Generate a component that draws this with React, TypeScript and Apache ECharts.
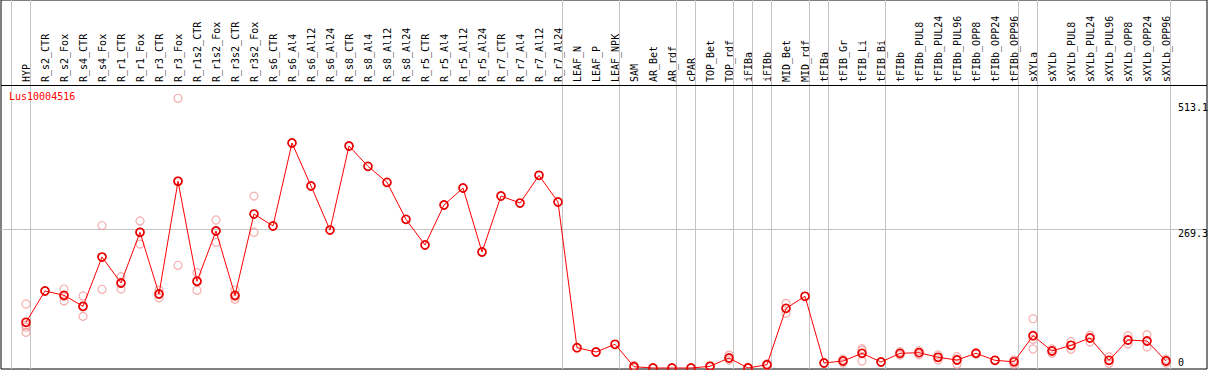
import React, { useEffect, useRef } from 'react';
import * as echarts from 'echarts';

const geneName = 'Lus10004516';

const categories = [
  'HYP', 'R_s2_CTR', 'R_s2_Fox', 'R_s4_CTR', 'R_s4_Fox', 'R_r1_CTR', 'R_r1_Fox', 'R_r3_CTR', 'R_r3_Fox',
  'R_r1s2_CTR', 'R_r1s2_Fox', 'R_r3s2_CTR', 'R_r3s2_Fox', 'R_s6_CTR', 'R_s6_Al4', 'R_s6_Al12', 'R_s6_Al24',
  'R_s8_CTR', 'R_s8_Al4', 'R_s8_Al12', 'R_s8_Al24', 'R_r5_CTR', 'R_r5_Al4', 'R_r5_Al12', 'R_r5_Al24',
  'R_r7_CTR', 'R_r7_Al4', 'R_r7_Al12', 'R_r7_Al24', 'LEAF_N', 'LEAF_P', 'LEAF_NPK', 'SAM', 'AR_Bet', 'AR_rdf',
  'cPAR', 'TOP_Bet', 'TOP_rdf', 'iFIBa', 'iFIBb', 'MID_Bet', 'MID_rdf', 'tFIBa', 'tFIB_Gr', 'tFIB_Li', 'tFIB_Bi',
  'tFIBb', 'tFIBb_PUL8', 'tFIBb_PUL24', 'tFIBb_PUL96', 'tFIBb_OPP8', 'tFIBb_OPP24', 'tFIBb_OPP96',
  'sXYLa', 'sXYLb', 'sXYLb_PUL8', 'sXYLb_PUL24', 'sXYLb_PUL96', 'sXYLb_OPP8', 'sXYLb_OPP24', 'sXYLb_OPP96',
];

const means = [
  88.5, 149.2, 140.8, 119.5, 215, 164.7, 262.9, 143.4, 361.7,
  168, 265.4, 140.8, 298.3, 275.1, 435.9, 352.6, 267.3,
  430.1, 390.7, 359.7, 288, 238.3, 315.8, 348.7, 224.7,
  333.2, 319.6, 373.3, 321.6, 39.3, 31, 45.9, 2.5, 0, 0,
  0, 3.3, 19.4, 0, 6.4, 115.6, 138.9, 9.7, 13.6, 28.4, 11.6,
  28.4, 29.7, 20.7, 15.5, 28.4, 14.9, 12,
  62.6, 32.9, 44, 58.1, 14.9, 54.2, 52.3, 13.6,
];

const replicates: number[][] = [
  [124, 83, 79, 69], [], [153, 130, 139], [139.5, 100, 119], [276, 152.5], [177, 153, 164], [285, 240, 263], [151, 136, 143], [522.5, 199, 363],
  [184.6, 150.5, 169], [286.7, 243.5, 266], [151, 133, 138], [333, 263], [], [], [], [],
  [], [], [], [], [], [], [], [],
  [], [], [], [], [], [], [], [5, 0.5], [], [],
  [], [4.5, 2], [25, 15.5], [1.5, 0], [8, 5], [125.3, 106], [], [], [17, 9.5], [37.4, 13.6, 34], [],
  [31.6, 25.2], [33.5, 25.5], [25.2, 15.5], [21.9, 7.2, 17], [30, 27], [], [15.5, 7.5],
  [95.5, 36.8, 55.5], [36.8, 28.4], [51, 36.2], [63.3, 50.4], [21.9, 9.1], [62.6, 46.5], [64.5, 40.7], [17, 9.5],
];

// indices after which a vertical separator is drawn (-1 = before the first)
const groupBreaks = [-1, 0, 28, 31, 34, 35, 37, 38, 39, 41, 42, 45, 52, 53, 60];
const yTickValues = [0, 269.3, 513.1];

// ---- layout (pixels) ----
const WIDTH = 1209;
const HEIGHT = 370;
const STEP = 19;
const FIRST_X = 26;
const BOX_LEFT = 1;
const BOX_RIGHT = 1207;
const BOX_TOP = 0;
const BOX_BOTTOM = 369;
const HEADER_Y = 85;
const ZERO_Y = 368;
const PX_PER_UNIT = 139 / 269.3;

const xMin = -(FIRST_X - BOX_LEFT) / STEP;
const xMax = xMin + (BOX_RIGHT - BOX_LEFT) / STEP;
const yMin = -(BOX_BOTTOM - ZERO_Y) / PX_PER_UNIT;
const yMax = (ZERO_Y - BOX_TOP) / PX_PER_UNIT;

const MONO = '"DejaVu Sans Mono", "Liberation Mono", monospace';

export default function App() {
  const ref = useRef<HTMLDivElement>(null);

  useEffect(() => {
    document.body.style.margin = '0';
    if (!ref.current) return;
    const chart = echarts.init(ref.current, undefined, { renderer: 'svg' });

    const repData: number[][] = [];
    replicates.forEach((reps, i) => reps.forEach((v) => repData.push([i, v])));
    const meanData = means.map((v, i) => [i, v]);

    chart.setOption({
      animation: false,
      backgroundColor: '#fff',
      title: {
        text: geneName,
        left: 9,
        top: 91,
        padding: 0,
        textStyle: { color: '#ff0000', fontSize: 10, fontFamily: MONO, fontWeight: 'normal' },
      },
      grid: {
        left: BOX_LEFT,
        right: WIDTH - BOX_RIGHT,
        top: BOX_TOP,
        bottom: HEIGHT - BOX_BOTTOM,
        show: true,
        borderColor: '#000',
        borderWidth: 1,
        backgroundColor: '#fff',
      },
      xAxis: {
        type: 'value',
        min: xMin,
        max: xMax,
        position: 'bottom',
        axisLine: { show: false },
        axisTick: { show: false },
        splitLine: { show: false },
        axisLabel: {
          inside: true,
          rotate: 90,
          margin: BOX_BOTTOM - HEADER_Y + 3,
          customValues: categories.map((_, i) => i),
          formatter: (v: number) => categories[Math.round(v)] ?? '',
          color: '#000',
          fontSize: 10,
          fontFamily: MONO,
          showMinLabel: true,
          showMaxLabel: true,
        },
      },
      yAxis: {
        type: 'value',
        min: yMin,
        max: yMax,
        axisLine: { show: false },
        axisTick: { show: false },
        axisLabel: { show: false },
        splitLine: { show: false },
      },
      graphic: [
        {
          type: 'line',
          shape: { x1: BOX_LEFT, y1: HEADER_Y + 0.5, x2: BOX_RIGHT, y2: HEADER_Y + 0.5 },
          style: { stroke: '#000', lineWidth: 1 },
          z: 10,
        },
      ],
      series: [
        {
          type: 'scatter',
          data: repData,
          z: 2,
          symbol: 'circle',
          symbolSize: 8,
          itemStyle: { color: 'rgba(0,0,0,0)', borderColor: '#f29a9a', borderWidth: 1.2 },
          silent: true,
          markLine: {
            silent: true,
            symbol: ['none', 'none'],
            z: 1,
            label: { show: false },
            lineStyle: { color: '#c4c4c4', width: 1, type: 'solid' },
            data: [
              ...groupBreaks.map((b) => ({ xAxis: b + 4.5 / STEP })),
              ...yTickValues.filter((v) => v > 0 && v < 300).map((v) => ({ yAxis: v })),
            ],
          },
          markPoint: {
            symbol: 'circle',
            symbolSize: 0,
            silent: true,
            z: 5,
            data: yTickValues.map((v) => ({
              coord: [xMax - 0.001, v],
              value: v,
              label: {
                show: true,
                formatter: String(v),
                position: [-29, -1],
                align: 'left',
                verticalAlign: v === 0 ? 'bottom' : 'top',
                color: '#000',
                fontSize: 10,
                fontFamily: MONO,
              },
            })),
          },
        },
        {
          type: 'line',
          data: meanData,
          z: 3,
          symbol: 'circle',
          symbolSize: 8,
          showAllSymbol: true,
          lineStyle: { color: '#ff0000', width: 1 },
          itemStyle: { color: 'rgba(0,0,0,0)', borderColor: '#e80000', borderWidth: 1.7 },
          silent: true,
        },
      ],
    });

    return () => chart.dispose();
  }, []);

  return <div ref={ref} style={{ width: WIDTH, height: HEIGHT }} />;
}
